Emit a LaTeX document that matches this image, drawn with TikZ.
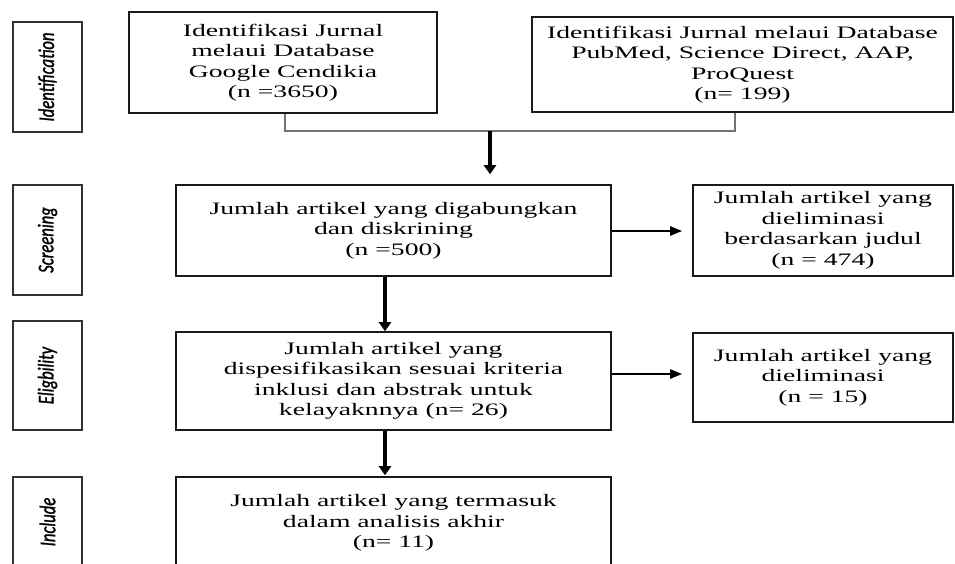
\documentclass[tikz,border=0pt]{standalone}
\usepackage{fontspec}
\setmainfont[FakeStretch=1.58]{Liberation Serif}
\newfontfamily\sidefont[FakeStretch=0.74,FakeBold=1.2]{Carlito}
\usetikzlibrary{arrows.meta}
\begin{document}
\begin{tikzpicture}[x=1pt,y=-1pt,
  mainbox/.style={draw=black!90,line width=1.6pt,inner sep=0pt,align=center,
    font=\fontsize{17.5}{20.5}\selectfont,fill=white},
  sidebox/.style={draw=black!80,line width=1.7pt,inner sep=0pt,
    minimum width=69pt,font=\sidefont\itshape\fontsize{22.5}{24}\selectfont},
  joinline/.style={draw=black!55,line width=1.2pt},
  flowarrow/.style={draw=black,line width=3.4pt,-{Triangle[width=12pt,length=9pt]}},
  sidearrow/.style={draw=black,line width=2.2pt,-{Triangle[width=9pt,length=12pt]}}]
\useasboundingbox (0,0) rectangle (955,563);
\begin{scope}
\clip (0,0) rectangle (955,563);
% side labels
\node[sidebox,minimum height=110pt] (sid) at (47.5,77) {\rotatebox{90}{Identification}};
\node[sidebox,minimum height=110pt] (sscr) at (47.5,240) {\rotatebox{90}{Screening}};
\node[sidebox,minimum height=109pt] (selg) at (47.5,375.5) {\rotatebox{90}{Eligbility}};
\node[sidebox,minimum height=90pt] (sinc) at (47.5,522) {\rotatebox{90}{Include}};
% main boxes
\node[mainbox,minimum width=308pt,minimum height=101pt] (gs) at (283,62.5)
  {Identifikasi Jurnal\\melaui Database\\Google Cendikia\\(n =3650)};
\node[mainbox,minimum width=421pt,minimum height=95pt] (pm) at (742.5,64.5)
  {Identifikasi Jurnal melaui Database\\PubMed, Science Direct, AAP,\\ProQuest\\(n= 199)};
\node[mainbox,minimum width=435pt,minimum height=91pt] (scr) at (393.5,230.5)
  {Jumlah artikel yang digabungkan\\dan diskrining\\(n =500)};
\node[mainbox,minimum width=260pt,minimum height=91pt] (elim1) at (823,230.5)
  {Jumlah artikel yang\\dieliminasi\\berdasarkan judul\\(n = 474)};
\node[mainbox,minimum width=435pt,minimum height=98pt] (elg) at (393.5,381)
  {Jumlah artikel yang\\dispesifikasikan sesuai kriteria\\inklusi dan abstrak untuk\\kelayaknnya (n= 26)};
\node[mainbox,minimum width=260pt,minimum height=89pt] (elim2) at (823,377.5)
  {Jumlah artikel yang\\dieliminasi\\(n = 15)};
\node[mainbox,minimum width=435pt,minimum height=92pt] (inc) at (393.5,523)
  {Jumlah artikel yang termasuk\\dalam analisis akhir\\(n= 11)};
% join connector
\coordinate (jl) at (285,131);
\coordinate (jr) at (735,131);
\coordinate (jm) at (490,131);
\draw[joinline] (gs.south -| jl) -- (jl) -- (jr) -- (pm.south -| jr);
\draw[flowarrow,shorten >=10pt] (jm) -- (jm |- scr.north);
% vertical flow
\coordinate (vx) at (385,0);
\draw[flowarrow] (scr.south -| vx) -- (elg.north -| vx);
\draw[flowarrow,shorten >=1pt] (elg.south -| vx) -- (inc.north -| vx);
% side arrows
\coordinate (h1) at (0,231);
\coordinate (h2) at (0,374);
\draw[sidearrow,shorten >=10pt] (scr.east |- h1) -- (elim1.west |- h1);
\draw[sidearrow,shorten >=10pt] (elg.east |- h2) -- (elim2.west |- h2);
\end{scope}
\end{tikzpicture}
\end{document}
